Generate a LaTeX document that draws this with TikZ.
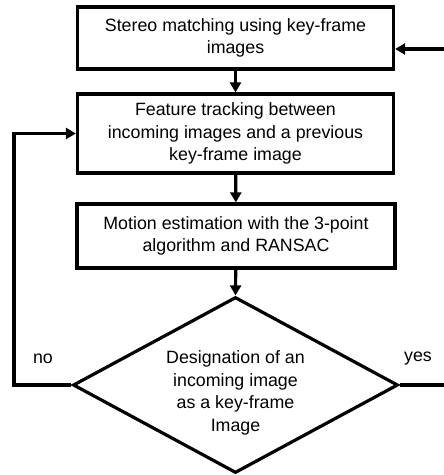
\documentclass[tikz,border=0pt]{standalone}
\usepackage{fontspec}
\setmainfont{Liberation Sans}
\usetikzlibrary{shapes.geometric,arrows.meta}
\begin{document}
\begin{tikzpicture}[x=1pt,y=-1pt,
  every node/.style={font=\fontsize{17.8}{22.5}\selectfont},
  stepbox/.style={draw,line width=3.2pt,align=center,inner sep=0pt},
  arr/.style={line width=3.2pt,-{Triangle[length=10pt,width=11pt]}}]
\useasboundingbox (0,0) rectangle (444,475);
\node[stepbox,minimum width=316pt,minimum height=62pt] (b1) at (235.5,38) {Stereo matching using key-frame\\images};
\node[stepbox,minimum width=316pt,minimum height=79pt] (b2) at (235.5,133.5) {Feature tracking between\\incoming images and a previous\\key-frame image};
\node[stepbox,minimum width=318pt,minimum height=64pt] (b3) at (236,236) {Motion estimation with the 3-point\\algorithm and RANSAC};
\node[diamond,draw,line width=3.2pt,minimum width=325pt,minimum height=176pt,aspect=1.85,inner sep=0pt] (d) at (235.5,385) {};
\node[align=center] (dtext) at (235.5,393) {Designation of an\\incoming image\\as a key-frame\\Image};
\draw[arr] (b1) -- (b2);
\draw[arr] (b2) -- (b3);
\draw[arr] (b3) -- (d.north);
\coordinate (l) at (14,385);
\coordinate (r) at (445.5,385);
\draw[arr] (d.west) -- (l) |- (b2.west);
\draw[arr] (d.east) -- (r) |- (b1.east |- 0,49);
\node (no) at (43,359) {no};
\node (yes) at (418,359) {yes};
\end{tikzpicture}
\end{document}
